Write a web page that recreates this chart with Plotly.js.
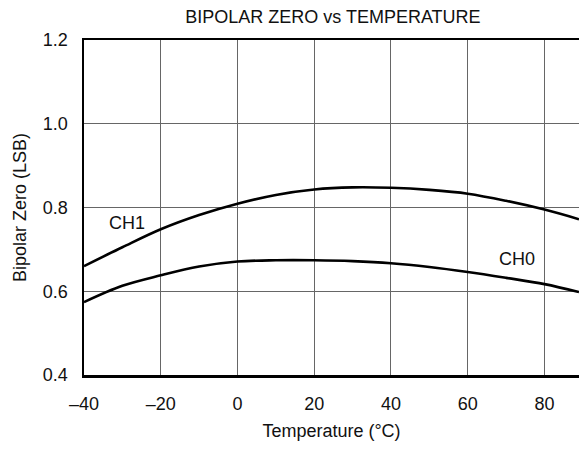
<!DOCTYPE html>
<html>
<head>
<meta charset="utf-8">
<script src="https://cdn.plot.ly/plotly-3.0.1.min.js"></script>
<style>html,body{margin:0;padding:0;background:#fff;}#chart{width:579px;height:449px;}</style>
</head>
<body>
<div id="chart"></div>
<script>
const temps = [-40, -30, -20, -10, 0, 10, 20, 30, 40, 50, 60, 70, 80, 89];
const ch1 = [0.660, 0.705, 0.748, 0.782, 0.809, 0.830, 0.843, 0.848, 0.847, 0.842, 0.833, 0.816, 0.795, 0.772];
const ch0 = [0.574, 0.613, 0.638, 0.659, 0.671, 0.674, 0.674, 0.672, 0.667, 0.658, 0.646, 0.632, 0.617, 0.598];
const xTicks = [-40, -20, 0, 20, 40, 60, 80];
const xTickText = ['\u201340', '\u201320', '0', '20', '40', '60', '80'];
const yTicks = [0.4, 0.6, 0.8, 1.0, 1.2];
const yTickText = ['0.4', '0.6', '0.8', '1.0', '1.2'];
const labels = [{name: 'CH1', x: -28.8, y: 0.764}, {name: 'CH0', x: 72.8, y: 0.676}];

const font = {family: 'Liberation Sans, Arial, sans-serif', size: 18, color: '#111'};
const traces = [
  {x: temps, y: ch1, mode: 'lines', line: {color: '#000', width: 2.6, shape: 'spline'}, hoverinfo: 'skip'},
  {x: temps, y: ch0, mode: 'lines', line: {color: '#000', width: 2.6, shape: 'spline'}, hoverinfo: 'skip'}
];
const layout = {
  width: 579, height: 449,
  margin: {l: 84, r: 0, t: 40, b: 74},
  paper_bgcolor: '#fff', plot_bgcolor: '#fff',
  showlegend: false,
  font: font,
  title: {text: 'BIPOLAR ZERO vs TEMPERATURE', font: font, x: 0.575, xanchor: 'center', y: 0.963, yanchor: 'middle'},
  xaxis: {
    range: [-40, 89], tickvals: xTicks, ticktext: xTickText,
    showgrid: true, gridcolor: '#666', gridwidth: 1,
    showline: true, linecolor: '#000', linewidth: 2.5, mirror: true,
    ticks: '', ticklabelstandoff: 11, zeroline: false, tickfont: font,
    title: {text: 'Temperature (\u00B0C)', font: font, standoff: 12}
  },
  yaxis: {
    range: [0.4, 1.2], tickvals: yTicks, ticktext: yTickText,
    showgrid: true, gridcolor: '#666', gridwidth: 1,
    showline: true, linecolor: '#000', linewidth: 2.5,
    ticks: '', ticklabelstandoff: 10, zeroline: false, tickfont: font,
    title: {text: 'Bipolar Zero (LSB)', font: font, standoff: 12}
  },
  annotations: labels.map(l => ({x: l.x, y: l.y, text: l.name, showarrow: false, font: font, xanchor: 'center', yanchor: 'middle'}))
};
Plotly.newPlot('chart', traces, layout, {staticPlot: true});
</script>
</body>
</html>
